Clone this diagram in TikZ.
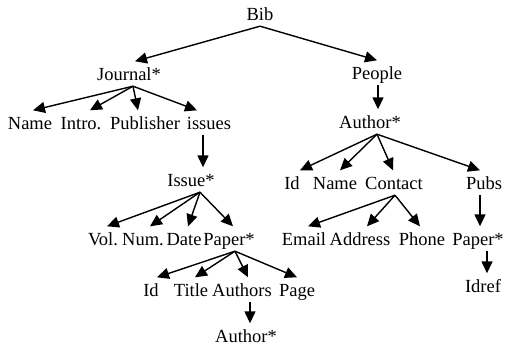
\documentclass[tikz,border=0pt]{standalone}
\usepackage{fontspec}
\setmainfont{Liberation Serif}
\usetikzlibrary{arrows.meta}

\begin{document}
\begin{tikzpicture}[x=1pt,y=-1pt,font=\fontsize{18.5}{20}\selectfont]
  \tikzset{elem/.style={anchor=base, inner xsep=0pt, inner ysep=6pt,
      text height=12.5pt, text depth=0pt}}
  \tikzset{to/.style={-{Triangle[length=12pt,width=11pt]}, line width=1.4pt}}
  \useasboundingbox (0,0) rectangle (505,348);
  % root
  \node[elem] (bib) at (260,20) {Bib};
  \node[elem] (journal) at (129,80) {Journal*};
  \node[elem] (people) at (377,79) {People};
  % journal side
  \node[elem] (name) at (30,129) {Name};
  \node[elem] (intro) at (81,129) {Intro.};
  \node[elem] (publisher) at (145,129) {Publisher};
  \node[elem] (issues) at (209,129) {issues};
  \node[elem] (issue) at (191,186) {Issue*};
  \node[elem] (vol) at (103,245) {Vol.};
  \node[elem] (num) at (143,245) {Num.};
  \node[elem] (date) at (184,245) {Date};
  \node[elem] (paper) at (229,245) {Paper*};
  \node[elem] (id) at (151,296) {Id};
  \node[elem] (title) at (191,296) {Title};
  \node[elem] (authors) at (242,296) {Authors};
  \node[elem] (pauthor) at (246,342) {Author*};
  \node[elem] (page) at (297,296) {Page};
  % people side
  \node[elem] (author) at (370,128) {Author*};
  \node[elem] (aid) at (292,189) {Id};
  \node[elem] (aname) at (335,189) {Name};
  \node[elem] (contact) at (394,189) {Contact};
  \node[elem] (pubs) at (484,189) {Pubs};
  \node[elem] (email) at (304,245) {Email};
  \node[elem] (address) at (360,245) {Address};
  \node[elem] (phone) at (422,245) {Phone};
  \node[elem] (apaper) at (478,245) {Paper*};
  \node[elem] (idref) at (483,292) {Idref};
  % edges
  \draw[to] (bib.south) -- ([xshift=6pt]journal.north);
  \draw[to] (bib.south) -- (people.north);
  \draw[to] ([xshift=4pt]journal.south) -- ([xshift=3pt]name.north);
  \draw[to] ([xshift=4pt]journal.south) -- ([xshift=9pt]intro.north);
  \draw[to] ([xshift=4pt]journal.south) -- ([xshift=-7pt]publisher.north);
  \draw[to] ([xshift=4pt]journal.south) -- ([xshift=-12pt]issues.north);
  \draw[to] ([xshift=-6pt]issues.south) -- ([xshift=12pt]issue.north);
  \draw[to] ([xshift=9pt]issue.south) -- ([xshift=4pt]vol.north);
  \draw[to] ([xshift=9pt]issue.south) -- ([xshift=7pt]num.north);
  \draw[to] ([xshift=9pt]issue.south) -- ([xshift=4pt]date.north);
  \draw[to] ([xshift=9pt]issue.south) -- ([xshift=4pt]paper.north);
  \draw[to] ([xshift=6pt]paper.south) -- ([xshift=6pt]id.north);
  \draw[to] ([xshift=6pt]paper.south) -- ([xshift=4pt]title.north);
  \draw[to] ([xshift=6pt]paper.south) -- ([xshift=6pt]authors.north);
  \draw[to] ([xshift=6pt]paper.south) -- (page.north);
  \draw[to] ([xshift=8pt]authors.south) -- ([xshift=4pt]pauthor.north);
  \draw[to] ([xshift=1pt]people.south) -- ([xshift=8pt]author.north);
  \draw[to] ([xshift=7pt]author.south) -- ([xshift=8pt]aid.north);
  \draw[to] ([xshift=7pt]author.south) -- ([xshift=5pt]aname.north);
  \draw[to] ([xshift=7pt]author.south) -- ([xshift=-1pt]contact.north);
  \draw[to] ([xshift=7pt]author.south) -- ([xshift=-4pt]pubs.north);
  \draw[to] ([xshift=1pt]contact.south) -- ([xshift=4pt]email.north);
  \draw[to] ([xshift=1pt]contact.south) -- ([xshift=7pt]address.north);
  \draw[to] ([xshift=1pt]contact.south) -- ([xshift=-2pt]phone.north);
  \draw[to] ([xshift=-4pt]pubs.south) -- ([xshift=2pt]apaper.north);
  \draw[to] ([xshift=9pt]apaper.south) -- ([xshift=4pt]idref.north);
\end{tikzpicture}
\end{document}
